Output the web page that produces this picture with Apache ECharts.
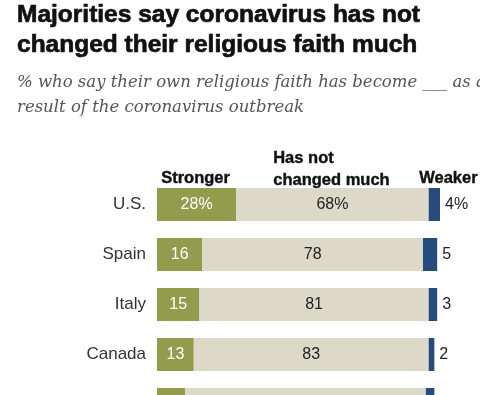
<!DOCTYPE html>
<html><head><meta charset="utf-8">
<script src="https://cdn.jsdelivr.net/npm/echarts@6/dist/echarts.min.js"></script>
<style>html,body{margin:0;padding:0;background:#fff}#c{width:480px;height:395px}</style>
</head><body><div id="c"></div>
<script>
var countries = ['U.S.', 'Spain', 'Italy', 'Canada', 'U.K.'];
var stronger = [28, 16, 15, 13, 10];
var notChanged = [68, 78, 81, 83, 85];
var weaker = [4, 5, 3, 2, 3];
var seriesNames = ['Stronger', 'Has not\nchanged much', 'Weaker'];

var chart = echarts.init(document.getElementById('c'), null, {renderer: 'canvas'});
var FONT = '"Liberation Sans", Arial, sans-serif';
function pct() {
  return function (p) { return p.dataIndex === 0 ? p.value + '%' : String(p.value); };
}
chart.setOption({
  animation: false,
  title: [
    {text: 'Majorities say coronavirus has not\nchanged their religious faith much', left: 17, top: 0, padding: 0,
     textStyle: {fontFamily: FONT, fontWeight: 'bold', fontSize: 24.5, lineHeight: 30, color: '#111',
       textBorderColor: '#111', textBorderWidth: 0.7}},
    {text: '% who say their own religious faith has become ___ as a\nresult of the coronavirus outbreak', left: 17, top: 70, padding: 0,
     textStyle: {fontFamily: '"DejaVu Serif", serif', fontStyle: 'italic', fontWeight: 'normal', fontSize: 16.5, lineHeight: 25, color: '#555'}}
  ],
  grid: {left: 157, top: 179.5, width: 283, height: 250, containLabel: false, outerBoundsMode: 'none'},
  xAxis: {type: 'value', min: 0, max: 100, show: false},
  yAxis: {type: 'category', data: countries, inverse: true,
    axisLine: {show: false}, axisTick: {show: false},
    axisLabel: {fontFamily: FONT, fontSize: 17, color: '#333', margin: 11}},
  graphic: [
    {type: 'text', left: 161, top: 170, style: {text: seriesNames[0], font: 'bold 16.5px ' + FONT, fill: '#111', stroke: '#111', lineWidth: 0.4}},
    {type: 'text', left: 273, top: 147, style: {text: seriesNames[1], font: 'bold 16.5px ' + FONT, fill: '#111', stroke: '#111', lineWidth: 0.4, align: 'center', lineHeight: 22}},
    {type: 'text', left: 419, top: 170, style: {text: seriesNames[2], font: 'bold 16.5px ' + FONT, fill: '#111', stroke: '#111', lineWidth: 0.4}}
  ],
  series: [
    {name: 'Stronger', type: 'bar', stack: 's', data: stronger, barWidth: 33,
     itemStyle: {color: '#939b4d'},
     label: {show: true, position: 'inside', color: '#fff', fontFamily: FONT, fontSize: 16, formatter: pct()}},
    {name: 'Has not changed much', type: 'bar', stack: 's', data: notChanged, barWidth: 33,
     itemStyle: {color: '#dcd9c8'},
     label: {show: true, position: 'inside', color: '#222', fontFamily: FONT, fontSize: 16, formatter: pct()}},
    {name: 'Weaker', type: 'bar', stack: 's', data: weaker, barWidth: 33,
     itemStyle: {color: '#264b7f'},
     label: {show: true, position: 'right', distance: 5, color: '#222', fontFamily: FONT, fontSize: 16, formatter: pct()}}
  ]
});
</script></body></html>
